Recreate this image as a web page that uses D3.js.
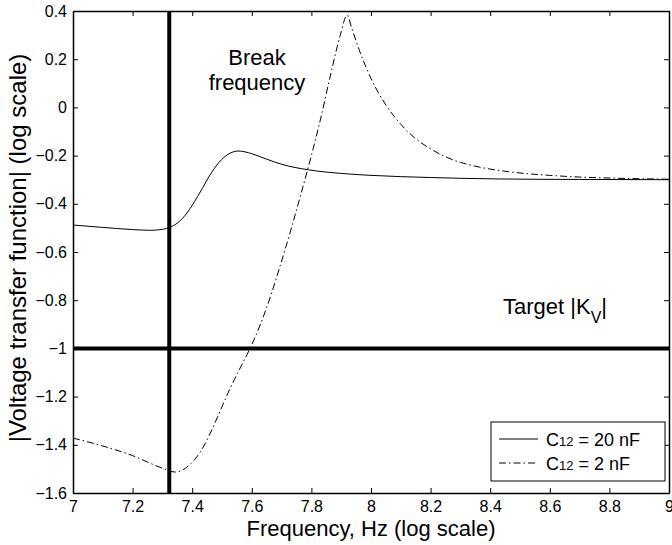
<!DOCTYPE html>
<html>
<head>
<meta charset="utf-8">
<script src="https://cdn.jsdelivr.net/npm/d3@7"></script>
<style>
  html, body { margin: 0; padding: 0; background: #fff; }
  svg { display: block; font-family: "Liberation Sans", Arial, Helvetica, sans-serif; }
</style>
</head>
<body>
<svg id="chart" width="672" height="545"></svg>
<script>
// Axis ticks
const xTicks = [7, 7.2, 7.4, 7.6, 7.8, 8, 8.2, 8.4, 8.6, 8.8, 9];
const yTicks = [-1.6, -1.4, -1.2, -1, -0.8, -0.6, -0.4, -0.2, 0, 0.2, 0.4];

// C12 = 20 nF response (log frequency, log |Kv|)
const freq20 = [7.000, 7.100, 7.200, 7.260, 7.300, 7.330, 7.360, 7.390, 7.427, 7.460, 7.490, 7.520, 7.555, 7.600, 7.650, 7.700, 7.790, 7.900, 8.000, 8.200, 8.434, 8.700, 9.000];
const gain20 = [-0.488, -0.498, -0.507, -0.510, -0.506, -0.495, -0.470, -0.425, -0.351, -0.280, -0.228, -0.195, -0.181, -0.192, -0.215, -0.236, -0.259, -0.274, -0.282, -0.291, -0.297, -0.299, -0.300];

// C12 = 2 nF response
const freq2 = [7.000, 7.100, 7.200, 7.300, 7.343, 7.394, 7.427, 7.461, 7.494, 7.528, 7.561, 7.595, 7.628, 7.662, 7.695, 7.729, 7.763, 7.796, 7.830, 7.864, 7.897, 7.920, 7.935, 7.960, 8.000, 8.050, 8.100, 8.150, 8.200, 8.250, 8.300, 8.365, 8.450, 8.533, 8.600, 8.700, 8.800, 8.900, 9.000];
const gain2 = [-1.372, -1.405, -1.445, -1.497, -1.513, -1.480, -1.430, -1.351, -1.259, -1.164, -1.081, -0.998, -0.903, -0.787, -0.658, -0.517, -0.368, -0.218, -0.052, 0.134, 0.300, 0.383, 0.330, 0.240, 0.120, 0.010, -0.070, -0.130, -0.172, -0.205, -0.228, -0.248, -0.265, -0.276, -0.282, -0.289, -0.293, -0.296, -0.298];

// Reference lines
const breakFrequency = 7.323;
const targetGain = -1;

const margin = { left: 73, right: 3, top: 11, bottom: 52 };
const W = 672, H = 545;
const svg = d3.select("#chart");

const x = d3.scaleLinear().domain([7, 9]).range([margin.left, W - margin.right]);
const y = d3.scaleLinear().domain([-1.6, 0.4]).range([H - margin.bottom, margin.top]);

const fmt = d => (d < 0 ? "\u2212" : "") + String(Math.abs(d));

const plot = svg.append("g");

// Curves
const line = d3.line().x(d => x(d[0])).y(d => y(d[1])).curve(d3.curveMonotoneX);

plot.append("path")
  .datum(d3.zip(freq20, gain20))
  .attr("d", line)
  .attr("fill", "none").attr("stroke", "#000").attr("stroke-width", 1);

plot.append("path")
  .datum(d3.zip(freq2, gain2))
  .attr("d", line)
  .attr("fill", "none").attr("stroke", "#000").attr("stroke-width", 1)
  .attr("stroke-dasharray", "7,3,1.5,3");

// Thick reference lines
plot.append("line")
  .attr("x1", x(breakFrequency)).attr("x2", x(breakFrequency))
  .attr("y1", y(-1.6)).attr("y2", y(0.4))
  .attr("stroke", "#000").attr("stroke-width", 4);

plot.append("line")
  .attr("x1", x(7)).attr("x2", x(9))
  .attr("y1", y(targetGain)).attr("y2", y(targetGain))
  .attr("stroke", "#000").attr("stroke-width", 4);

// Axes box with inward ticks on all sides
const tickLen = 5;
const axisBottom = d3.axisBottom(x).tickValues(xTicks).tickSizeInner(-tickLen).tickSizeOuter(0).tickPadding(8).tickFormat(d => String(d));
const axisTop = d3.axisTop(x).tickValues(xTicks).tickSizeInner(-tickLen).tickSizeOuter(0).tickFormat("");
const axisLeft = d3.axisLeft(y).tickValues(yTicks).tickSizeInner(-tickLen).tickSizeOuter(0).tickPadding(6).tickFormat(fmt);
const axisRight = d3.axisRight(y).tickValues(yTicks).tickSizeInner(-tickLen).tickSizeOuter(0).tickFormat("");

function style(g) {
  g.select(".domain").attr("stroke", "#000").attr("stroke-width", 1.5);
  g.selectAll(".tick line").attr("stroke", "#000").attr("stroke-width", 1);
  g.selectAll(".tick text").attr("fill", "#000").style("font-size", "16px").style("font-family", "'Liberation Sans', Arial, sans-serif");
}

svg.append("g").attr("transform", `translate(0,${y(-1.6)})`).call(axisBottom).call(style);
svg.append("g").attr("transform", `translate(0,${y(0.4)})`).call(axisTop).call(style);
svg.append("g").attr("transform", `translate(${x(7)},0)`).call(axisLeft).call(style);
svg.append("g").attr("transform", `translate(${x(9)},0)`).call(axisRight).call(style);

// Axis titles
svg.append("text")
  .attr("x", (x(7) + x(9)) / 2).attr("y", 536)
  .attr("text-anchor", "middle")
  .style("font-size", "22px")
  .text("Frequency, Hz (log scale)");

svg.append("text")
  .attr("transform", `translate(26,248) rotate(-90)`)
  .attr("text-anchor", "middle")
  .style("font-size", "24px")
  .text("|Voltage transfer function| (log scale)");

// Annotations
const ann = svg.append("g").style("font-size", "22px");
ann.append("text").attr("x", 257).attr("y", 65).attr("text-anchor", "middle").text("Break");
ann.append("text").attr("x", 257).attr("y", 90).attr("text-anchor", "middle").text("frequency");

const tgt = ann.append("text").attr("x", 503).attr("y", 314);
tgt.append("tspan").text("Target |K");
tgt.append("tspan").attr("dy", 9).style("font-size", "16px").text("V");
tgt.append("tspan").attr("dy", -9).text("|");

// Legend
const leg = svg.append("g");
leg.append("rect")
  .attr("x", 491).attr("y", 422).attr("width", 174).attr("height", 59)
  .attr("fill", "#fff").attr("stroke", "#000").attr("stroke-width", 1);

const legendItems = [
  { label: "20 nF", dash: null, yy: 439 },
  { label: "2 nF", dash: "7,3,1.5,3", yy: 463 }
];
legendItems.forEach(it => {
  leg.append("line")
    .attr("x1", 499).attr("x2", 538).attr("y1", it.yy).attr("y2", it.yy)
    .attr("stroke", "#000").attr("stroke-width", 1)
    .attr("stroke-dasharray", it.dash);
  const t = leg.append("text").attr("x", 546).attr("y", it.yy + 7).style("font-size", "18px");
  t.append("tspan").text("C");
  t.append("tspan").style("font-size", "13px").text("12");
  t.append("tspan").text(" = " + it.label);
});
</script>
</body>
</html>
